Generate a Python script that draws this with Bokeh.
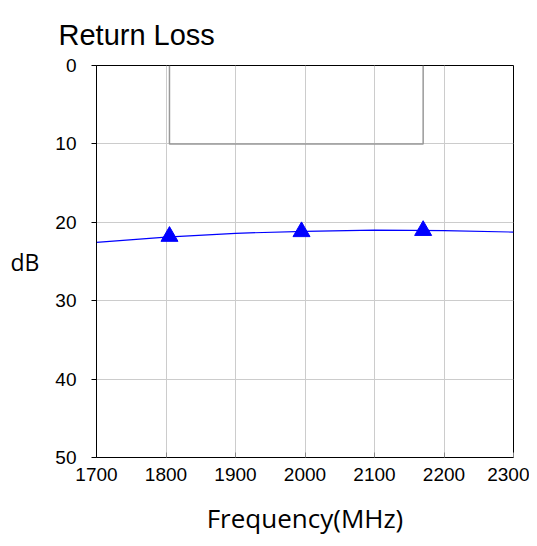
from bokeh.plotting import figure
from bokeh.models import Range1d, FixedTicker
from bokeh.embed import file_html
from bokeh.resources import INLINE

# Data
freq = [1700, 1800, 1900, 2000, 2100, 2200, 2300]
return_loss = [22.55, 21.9, 21.4, 21.15, 21.0, 21.05, 21.25]
marker_freq = [1805, 1995, 2170]
marker_rl = [21.8, 21.2, 21.05]
spec_x = [1805, 1805, 2170, 2170]
spec_y = [0, 10, 10, 0]
x_ticks = [1700, 1800, 1900, 2000, 2100, 2200, 2300]
y_ticks = [0, 10, 20, 30, 40, 50]

p = figure(width=529, height=538, output_backend="svg", toolbar_location=None,
           x_range=Range1d(1700, 2300), y_range=Range1d(50, 0),
           min_border_left=96, min_border_right=16, min_border_top=65, min_border_bottom=76)

p.title.text = "Return Loss"
p.title.text_font = "Liberation Sans"
p.title.text_font_size = "29px"
p.title.text_font_style = "normal"
p.title.text_color = "#000000"
p.title.offset = -38
p.title.vertical_align = "top"
p.title.standoff = 25

p.outline_line_color = "#000000"
p.outline_line_width = 1
p.background_fill_color = "white"
p.border_fill_color = "white"

for g in (p.xgrid, p.ygrid):
    g.grid_line_color = "#cccccc"
    g.grid_line_width = 1
p.xgrid.ticker = FixedTicker(ticks=x_ticks)
p.ygrid.ticker = FixedTicker(ticks=y_ticks)

xa = p.xaxis[0]
xa.ticker = FixedTicker(ticks=x_ticks)
xa.axis_label = "Frequency(MHz)"
xa.axis_label_text_font = "Open Sans"
xa.axis_label_text_font_size = "26px"
xa.axis_label_text_font_style = "normal"
xa.axis_label_text_color = "#000000"
xa.axis_label_standoff = 16
xa.major_label_text_font = "Liberation Sans"
xa.major_label_text_font_size = "19px"
xa.major_label_text_color = "#000000"
xa.major_label_standoff = 10
xa.major_tick_in = 5
xa.major_tick_out = 0
xa.major_tick_line_color = "#888888"
xa.minor_tick_line_color = None
xa.axis_line_color = "#000000"

ya = p.yaxis[0]
ya.ticker = FixedTicker(ticks=y_ticks)
ya.axis_label = "dB"
ya.axis_label_orientation = "horizontal"
ya.axis_label_text_font = "Open Sans"
ya.axis_label_text_font_size = "23px"
ya.axis_label_text_font_style = "normal"
ya.axis_label_text_color = "#000000"
ya.axis_label_standoff = 13
ya.major_label_text_font = "Liberation Sans"
ya.major_label_text_font_size = "19px"
ya.major_label_text_color = "#000000"
ya.major_label_standoff = 15
ya.major_tick_in = 0
ya.major_tick_out = 5
ya.major_tick_line_color = "#000000"
ya.minor_tick_line_color = None
ya.axis_line_color = "#000000"

p.line(spec_x, spec_y, line_color="#999999", line_width=1.5)
p.line(freq, return_loss, line_color="#0000ff", line_width=1.2)
p.scatter(marker_freq, marker_rl, marker="triangle", size=17, fill_color="#0000ff", line_color="#0000ff")

open("out.html", "w").write(file_html(p, INLINE))
